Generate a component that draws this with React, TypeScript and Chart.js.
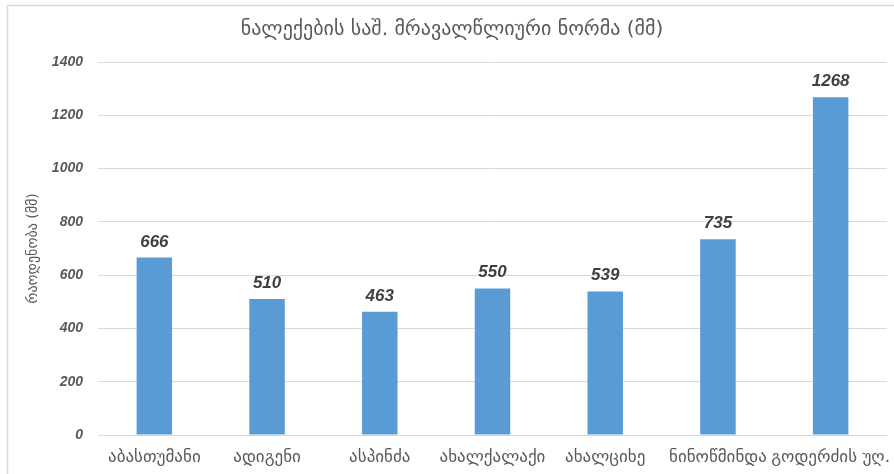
import React, { useEffect, useRef } from "react";
import { Chart, registerables } from "chart.js";

Chart.register(...registerables);

const chartTitle = "ნალექების საშ. მრავალწლიური ნორმა (მმ)";
const yAxisTitle = "რაოდენობა (მმ)";
const categories = [
  "აბასთუმანი",
  "ადიგენი",
  "ასპინძა",
  "ახალქალაქი",
  "ახალციხე",
  "ნინოწმინდა",
  "გოდერძის უღ.",
];
const precipitation = [666, 510, 463, 550, 539, 735, 1268];
const yTicks = [0, 200, 400, 600, 800, 1000, 1200, 1400];

const GEO_FONT = "'DejaVu Sans', sans-serif";
const NUM_FONT = "'Liberation Sans', Arial, sans-serif";

const framePlugin = {
  id: "frame",
  beforeDraw(chart: any) {
    const { ctx, width, height } = chart;
    ctx.save();
    ctx.fillStyle = "#ffffff";
    ctx.fillRect(0, 0, width, height);
    ctx.strokeStyle = "#D9D9D9";
    ctx.lineWidth = 1.5;
    ctx.beginPath();
    ctx.moveTo(7.5, height);
    ctx.lineTo(7.5, 5.5);
    ctx.lineTo(width, 5.5);
    ctx.stroke();
    ctx.restore();
  },
  afterDraw(chart: any) {
    const { ctx } = chart;
    ctx.save();
    ctx.fillStyle = "#595959";
    ctx.font = `20px ${GEO_FONT}`;
    ctx.textAlign = "center";
    ctx.textBaseline = "middle";
    ctx.fillText(chartTitle, 452, 30);
    ctx.restore();
  },
};

const dataLabelPlugin = {
  id: "dataLabels",
  afterDatasetsDraw(chart: any) {
    const { ctx } = chart;
    const meta = chart.getDatasetMeta(0);
    ctx.save();
    ctx.fillStyle = "#404040";
    ctx.font = `italic bold 17px ${NUM_FONT}`;
    ctx.textAlign = "center";
    ctx.textBaseline = "alphabetic";
    meta.data.forEach((bar: any, i: number) => {
      ctx.fillText(String(chart.data.datasets[0].data[i]), bar.x, bar.y - 11);
    });
    ctx.restore();
  },
};

export default function App() {
  const canvasRef = useRef<HTMLCanvasElement | null>(null);

  useEffect(() => {
    if (!canvasRef.current) return;
    const chart = new Chart(canvasRef.current, {
      type: "bar",
      data: {
        labels: categories,
        datasets: [
          {
            data: precipitation,
            backgroundColor: "#5B9BD5",
            borderWidth: 0,
            categoryPercentage: 1,
            barPercentage: 0.315,
          },
        ],
      },
      options: {
        animation: false,
        responsive: false,
        maintainAspectRatio: false,
        layout: { padding: { top: 62, left: 7, right: 7, bottom: 0 } },
        plugins: {
          legend: { display: false },
          title: { display: false },
          tooltip: { enabled: false },
        },
        scales: {
          x: {
            grid: { display: false, drawTicks: false },
            border: { display: false },
            ticks: {
              color: "#595959",
              font: { family: GEO_FONT, size: 17 },
              maxRotation: 0,
              minRotation: 0,
              autoSkip: false,
              padding: 12,
            },
            afterFit(scale: any) {
              scale.height = 39;
              scale.paddingLeft = 0;
              scale.paddingRight = 0;
            },
          },
          y: {
            min: 0,
            max: 1400,
            afterBuildTicks(scale: any) {
              scale.ticks = yTicks.map((v) => ({ value: v }));
            },
            grid: { color: "#D9D9D9", lineWidth: 1, drawTicks: false },
            border: { display: false },
            ticks: {
              color: "#595959",
              font: { family: NUM_FONT, size: 14, style: "italic", weight: "bold" },
              padding: 15,
              callback: (v: any) => String(v),
            },
            title: {
              display: true,
              text: yAxisTitle,
              color: "#595959",
              font: { family: GEO_FONT, size: 14 },
              padding: { top: 18, bottom: 0 },
            },
            afterFit(scale: any) {
              scale.width = 91;
            },
          },
        },
      },
      plugins: [framePlugin, dataLabelPlugin],
    });
    return () => chart.destroy();
  }, []);

  return (
    <div style={{ position: "fixed", left: 0, top: 0, width: 894, height: 474 }}>
      <canvas ref={canvasRef} width={894} height={474} style={{ width: 894, height: 474 }} />
    </div>
  );
}
